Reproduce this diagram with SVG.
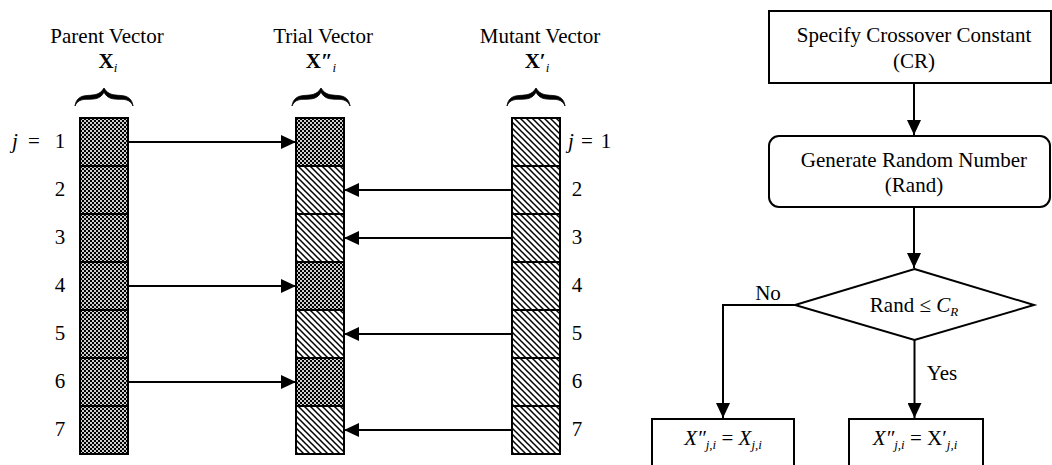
<svg xmlns="http://www.w3.org/2000/svg" width="1052" height="465" viewBox="0 0 1052 465">
<style>
text{font-family:"Liberation Serif","Times New Roman",serif;font-size:21px;fill:#000}
.c{text-anchor:middle}
.it{font-style:italic}
.b{font-weight:bold}
.sub{font-size:13px;font-style:italic}
.cell{stroke:#000;stroke-width:2}
.ck{fill:url(#chk)}
.dg{fill:url(#diag)}
.box{fill:#fff;stroke:#000;stroke-width:2}
.ln{fill:none;stroke:#000;stroke-width:2;marker-end:url(#ah)}
.brace{fill:#000;stroke:#000;stroke-width:0.8;stroke-linejoin:round}
</style>
<defs>
<pattern id="chk" width="4" height="4" patternUnits="userSpaceOnUse">
<rect width="4" height="4" fill="#000"/>
<rect x="0.1" y="0.1" width="1.8" height="1.8" fill="#fff"/>
<rect x="2.1" y="2.1" width="1.8" height="1.8" fill="#fff"/>
</pattern>
<pattern id="diag" width="6" height="6" patternUnits="userSpaceOnUse">
<rect width="6" height="6" fill="#fff"/>
<path d="M-1,-1 L7,7 M-1,5 L1,7 M5,-1 L7,1" stroke="#000" stroke-width="1.5"/>
</pattern>
<marker id="ah" markerUnits="userSpaceOnUse" markerWidth="15" markerHeight="14" refX="15" refY="7" orient="auto">
<path d="M0,0 L15,7 L0,14 z" fill="#000"/>
</marker>
<path id="br" class="brace" d="M0,18 C1,11 5,8 12,7.5 C19,7 25,7 29,0 C33,7 39,7 46,7.5 C53,8 57,11 58,18 C56,13 52,11.3 46,11.3 C38,11.3 32,10.8 29,4 C26,10.8 20,11.3 12,11.3 C6,11.3 2,13 0,18 Z"/>
</defs>

<g id="parent-vector">
<text class="c" x="107" y="43">Parent Vector</text>
<text class="c" x="108" y="68"><tspan class="b">X</tspan><tspan class="sub" dy="4">i</tspan></text>
<use href="#br" x="75" y="88"/>
<rect class="cell ck" x="80" y="118" width="48" height="48"/>
<rect class="cell ck" x="80" y="166" width="48" height="48"/>
<rect class="cell ck" x="80" y="214" width="48" height="48"/>
<rect class="cell ck" x="80" y="262" width="48" height="48"/>
<rect class="cell ck" x="80" y="310" width="48" height="48"/>
<rect class="cell ck" x="80" y="358" width="48" height="48"/>
<rect class="cell ck" x="80" y="406" width="48" height="48"/>
<text class="it" x="12" y="148">j</text>
<text x="28" y="148">=</text>
<text class="c" x="60" y="148">1</text>
<text class="c" x="60" y="196">2</text>
<text class="c" x="60" y="244">3</text>
<text class="c" x="60" y="292">4</text>
<text class="c" x="60" y="340">5</text>
<text class="c" x="60" y="388">6</text>
<text class="c" x="60" y="436">7</text>
</g>

<g id="trial-vector">
<text class="c" x="323" y="43">Trial Vector</text>
<text class="c" x="321" y="68"><tspan class="b">X</tspan><tspan class="b it">″</tspan><tspan class="sub" dy="4">i</tspan></text>
<use href="#br" x="292" y="88"/>
<rect class="cell ck" x="296" y="118" width="48" height="48"/>
<rect class="cell dg" x="296" y="166" width="48" height="48"/>
<rect class="cell dg" x="296" y="214" width="48" height="48"/>
<rect class="cell ck" x="296" y="262" width="48" height="48"/>
<rect class="cell dg" x="296" y="310" width="48" height="48"/>
<rect class="cell ck" x="296" y="358" width="48" height="48"/>
<rect class="cell dg" x="296" y="406" width="48" height="48"/>
</g>

<g id="mutant-vector">
<text class="c" x="540" y="43">Mutant Vector</text>
<text class="c" x="537" y="68"><tspan class="b">X</tspan><tspan class="b">′</tspan><tspan class="sub" dy="4">i</tspan></text>
<use href="#br" x="507" y="88"/>
<rect class="cell dg" x="512" y="118" width="48" height="48"/>
<rect class="cell dg" x="512" y="166" width="48" height="48"/>
<rect class="cell dg" x="512" y="214" width="48" height="48"/>
<rect class="cell dg" x="512" y="262" width="48" height="48"/>
<rect class="cell dg" x="512" y="310" width="48" height="48"/>
<rect class="cell dg" x="512" y="358" width="48" height="48"/>
<rect class="cell dg" x="512" y="406" width="48" height="48"/>
<text class="it" x="568" y="148">j</text>
<text x="581" y="148">=</text>
<text class="c" x="606" y="148">1</text>
<text class="c" x="577" y="196">2</text>
<text class="c" x="577" y="244">3</text>
<text class="c" x="577" y="292">4</text>
<text class="c" x="577" y="340">5</text>
<text class="c" x="577" y="388">6</text>
<text class="c" x="577" y="436">7</text>
</g>

<g id="specify-cr">
<rect class="box" x="769" y="11" width="282" height="72"/>
<text class="c" x="914" y="42">Specify Crossover Constant</text>
<text class="c" x="914" y="68">(CR)</text>
</g>

<g id="generate-rand">
<rect class="box" x="769" y="136" width="281" height="71" rx="10"/>
<text class="c" x="914" y="167">Generate Random Number</text>
<text class="c" x="914" y="192">(Rand)</text>
</g>

<g id="decision">
<polygon class="box" points="914.5,269 1034,305 914.5,340 795,305"/>
<text class="c" x="914" y="312">Rand ≤ <tspan class="it">C</tspan><tspan class="sub" dy="4">R</tspan></text>
</g>

<g id="result-no">
<rect class="box" x="652" y="419" width="142" height="70"/>
<text class="c" x="723" y="445"><tspan class="it">X</tspan><tspan class="it">″</tspan><tspan class="sub" dy="4">j,i</tspan><tspan dy="-4"> = </tspan><tspan class="it">X</tspan><tspan class="sub" dy="4">j,i</tspan></text>
</g>

<g id="result-yes">
<rect class="box" x="849" y="419" width="134" height="70"/>
<text class="c" x="915" y="445"><tspan class="it">X</tspan><tspan class="it">″</tspan><tspan class="sub" dy="4">j,i</tspan><tspan dy="-4"> = X′</tspan><tspan class="sub" dy="4">j,i</tspan></text>
</g>

<g id="connectors">
<line class="ln" x1="128" y1="142" x2="296" y2="142"/>
<line class="ln" x1="128" y1="286" x2="296" y2="286"/>
<line class="ln" x1="128" y1="382" x2="296" y2="382"/>
<line class="ln" x1="512" y1="190" x2="344" y2="190"/>
<line class="ln" x1="512" y1="238" x2="344" y2="238"/>
<line class="ln" x1="512" y1="334" x2="344" y2="334"/>
<line class="ln" x1="512" y1="430" x2="344" y2="430"/>
<line class="ln" x1="914" y1="83" x2="914" y2="135"/>
<line class="ln" x1="914" y1="207" x2="914" y2="268"/>
<path class="ln" d="M795,305 H723 V418"/>
<path class="ln" d="M914.5,340 V418"/>
<text class="c" x="768" y="300">No</text>
<text class="c" x="942" y="380">Yes</text>
</g>
</svg>
